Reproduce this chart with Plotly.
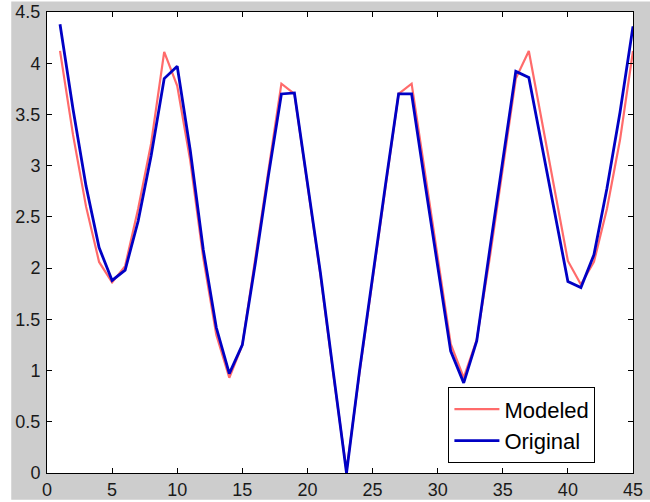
import plotly.graph_objects as go

# Sample index along the profile
x_vals = list(range(1, 46))

# Model output
modeled = [4.12, 3.30, 2.60, 2.06, 1.86, 2.02, 2.58, 3.22, 4.11, 3.78,
           3.05, 2.10, 1.35, 0.93, 1.25, 2.10, 2.95, 3.80, 3.70, 2.80,
           1.93, 0.95, 0.02, 0.98, 1.90, 2.80, 3.70, 3.80, 2.95, 2.10,
           1.26, 0.93, 1.30, 2.10, 3.00, 3.85, 4.12, 3.44, 2.76, 2.07,
           1.84, 2.06, 2.58, 3.25, 4.12]

# Measured data
original = [4.38, 3.55, 2.80, 2.20, 1.88, 1.98, 2.46, 3.10, 3.85, 3.97,
            3.15, 2.18, 1.42, 0.97, 1.25, 2.05, 2.90, 3.70, 3.71, 2.82,
            1.95, 0.97, 0.00, 1.00, 1.92, 2.82, 3.70, 3.70, 2.85, 2.02,
            1.19, 0.88, 1.29, 2.18, 3.05, 3.92, 3.86, 3.20, 2.54, 1.87,
            1.81, 2.13, 2.78, 3.52, 4.36]

x_ticks = [0, 5, 10, 15, 20, 25, 30, 35, 40, 45]
y_ticks = [0, 0.5, 1, 1.5, 2, 2.5, 3, 3.5, 4, 4.5]

tick_font = dict(family="Liberation Sans, Arial", size=18, color="#1a1a1a")

fig = go.Figure()
fig.add_trace(go.Scatter(x=x_vals, y=modeled, mode="lines", name="Modeled",
                         line=dict(color="#ff6b6b", width=2.2)))
fig.add_trace(go.Scatter(x=x_vals, y=original, mode="lines", name="Original",
                         line=dict(color="#0000c4", width=2.8)))

axis_common = dict(showline=True, linecolor="black", linewidth=1, mirror="ticks",
                   ticks="inside", ticklen=5, tickcolor="black", tickwidth=1,
                   showgrid=False, zeroline=False, tickfont=tick_font,
                   automargin=False)

fig.update_layout(
    width=650, height=502,
    margin=dict(l=47, r=17, t=12, b=29),
    paper_bgcolor="white",
    plot_bgcolor="white",
    showlegend=True,
    legend=dict(x=0.685, y=0.186, xanchor="left", yanchor="top",
                bgcolor="white", bordercolor="black", borderwidth=1,
                itemwidth=45,
                font=dict(family="Liberation Sans, Arial", size=22, color="black"),
                tracegroupgap=0),
    xaxis=dict(range=[0, 45], tickvals=x_ticks, **axis_common),
    yaxis=dict(range=[0, 4.5], tickvals=y_ticks, ticklabelstandoff=2, **axis_common),
    shapes=[
        # figure window background
        dict(type="rect", xref="paper", yref="paper", layer="below",
             x0=-0.061, x1=1.03, y0=-0.058, y1=1.023,
             fillcolor="#cdcdcd", line=dict(width=0)),
        # axes area
        dict(type="rect", xref="paper", yref="paper", layer="below",
             x0=0, x1=1, y0=0, y1=1,
             fillcolor="white", line=dict(width=0)),
    ],
)

fig.write_html("out.html")
